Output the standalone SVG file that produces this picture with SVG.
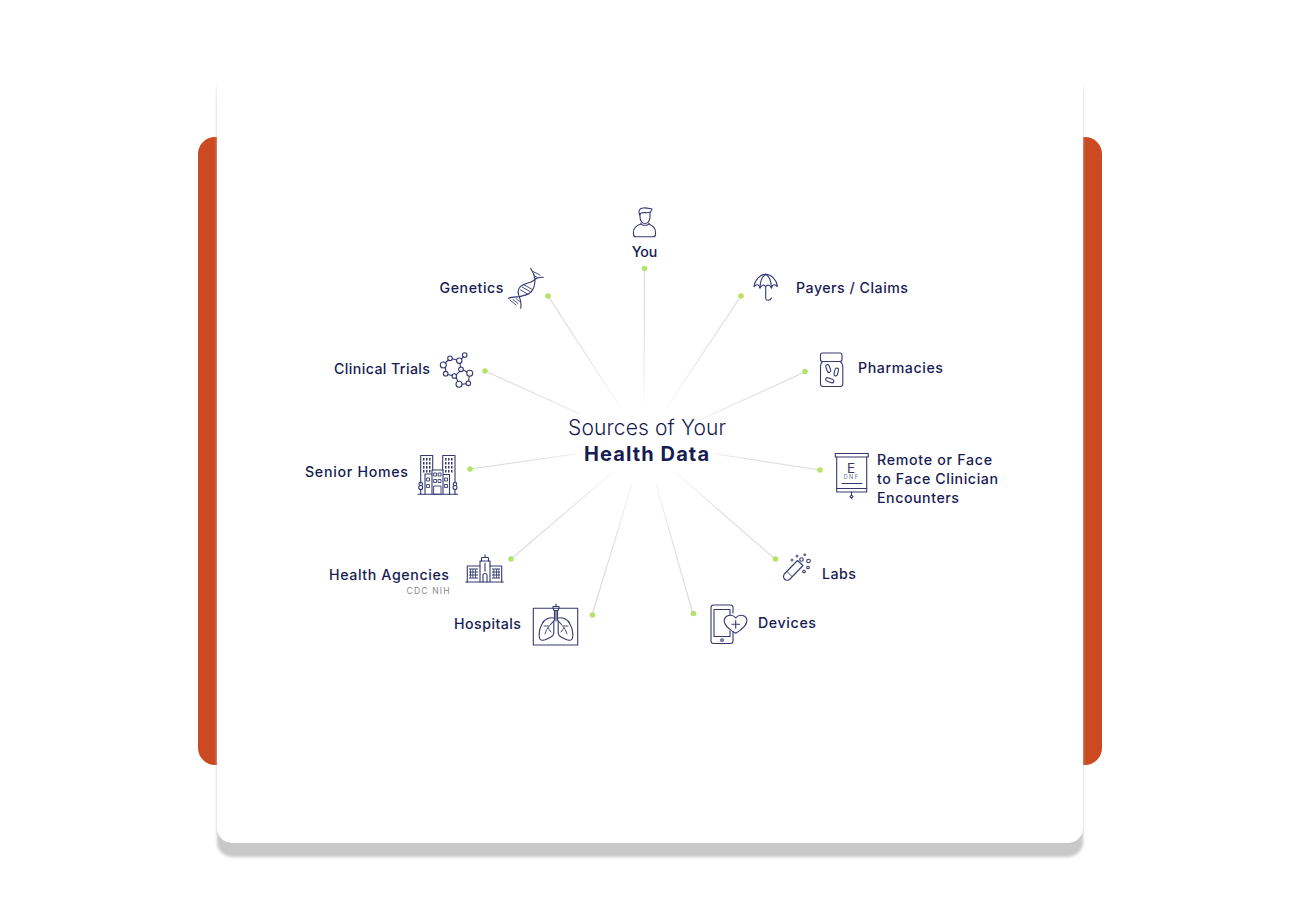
<svg xmlns="http://www.w3.org/2000/svg" width="1300" height="900" viewBox="0 0 1300 900">
<style>
.lab{font-family:"Inter","Liberation Sans",sans-serif;font-weight:500;font-size:14.2px;fill:#171c52}
.ic{fill:none;stroke:#343a70;stroke-width:1.1;stroke-linecap:round;stroke-linejoin:round}
.thin{stroke-width:.9}
.win{fill:#343a70;stroke:none}
.dot{fill:#b5e36a}
.ln{stroke:url(#fade);stroke-width:1.2;fill:none}
</style>
<defs>
<radialGradient id="fade" gradientUnits="userSpaceOnUse" cx="644" cy="440" r="230">
<stop offset="0.1" stop-color="#dcdcdc" stop-opacity="0"/>
<stop offset="0.45" stop-color="#dcdcdc" stop-opacity="0.8"/>
<stop offset="0.7" stop-color="#dcdcdc"/>
</radialGradient>
<filter id="soft" x="-5%" y="-5%" width="110%" height="110%"><feGaussianBlur stdDeviation="1.6"/></filter>
<linearGradient id="cardTop" gradientUnits="userSpaceOnUse" x1="0" y1="68" x2="0" y2="100">
<stop offset="0" stop-color="#fff"/><stop offset="1" stop-color="#fff" stop-opacity="0"/>
</linearGradient>
</defs>

<rect width="1300" height="900" fill="#fff"/>
<g id="backdrop">
<rect x="198" y="137" width="904" height="628" rx="17" fill="#cc4a21"/>
<rect x="217" y="75" width="866" height="782" rx="15" fill="#c8c8c8" filter="url(#soft)"/>
<rect x="217" y="60" width="866" height="783" rx="15" fill="#fff"/>
<rect x="205" y="60" width="890" height="40" fill="url(#cardTop)"/>
</g>

<g id="connectors">
<path class="ln" d="M644.500 268L644 405"/>
<path class="ln" d="M548 296L622 410"/>
<path class="ln" d="M485 371L580 414"/>
<path class="ln" d="M470 469L575 454"/>
<path class="ln" d="M511 559L613 472"/>
<path class="ln" d="M592 615L632 484"/>
<path class="ln" d="M693 614L656 484"/>
<path class="ln" d="M775 559L675 472"/>
<path class="ln" d="M820 470L715 454"/>
<path class="ln" d="M805 372L695 422"/>
<path class="ln" d="M741 296L665 410"/>
<circle class="dot" cx="644.500" cy="268.500" r="2.800"/>
<circle class="dot" cx="548" cy="296" r="2.800"/>
<circle class="dot" cx="485" cy="371" r="2.800"/>
<circle class="dot" cx="470" cy="469" r="2.800"/>
<circle class="dot" cx="511" cy="559" r="2.800"/>
<circle class="dot" cx="592.500" cy="615" r="2.800"/>
<circle class="dot" cx="693.500" cy="613.500" r="2.800"/>
<circle class="dot" cx="775.500" cy="559" r="2.800"/>
<circle class="dot" cx="820" cy="470" r="2.800"/>
<circle class="dot" cx="805" cy="371.500" r="2.800"/>
<circle class="dot" cx="741" cy="296" r="2.800"/>
</g>

<g id="title" text-anchor="middle">
<text x="647" y="434.500" font-family="Inter,'Liberation Sans',sans-serif" font-weight="300" font-size="21px" fill="#171c52" textLength="158">Sources of Your</text>
<text x="646.500" y="461" font-family="Inter,'Liberation Sans',sans-serif" font-weight="700" font-size="20px" fill="#171c52" textLength="125">Health Data</text>
</g>

<g id="you">
<text class="lab" x="644.500" y="256.500" text-anchor="middle">You</text>
<g class="ic">
<path d="M640 213.500V217C640 221 642.500 223.500 645 223.500C647.500 223.500 650 221 650 217V212.500"/>
<path d="M639.500 215C638 211 639.500 208 643 208C646 207.500 649 208.500 652 209L650.500 212C648 213.500 644 212 641 213Z"/>
<path d="M641 223C640 226 649.500 226 649 223"/>
<path d="M641 224C636.500 225.500 633.500 228 633.500 232V234.500C633.500 236 634.500 236.800 636 236.800H653C654.500 236.800 655.500 236 655.500 234.500V232C655.500 228 652.500 225.500 649 224"/>
</g>
</g>

<g id="genetics">
<text class="lab" x="439.500" y="292.700" textLength="64">Genetics</text>
<g class="ic">
<path d="M530.700 268.300C533 272 534.500 276 535 279.300C532 283 524 283 520 287C517.500 290 518 294 519.300 296.700C520.500 300 521.500 304 520.700 308.300"/>
<path d="M543.300 277.300C540 277 537 278 535 279.300C535 284 534 289 531 292C527 296 522 295.500 519.300 296.700C515.500 297 511 297 508.300 298.300"/>
</g>
<g class="ic thin">
<path d="M533 271.500L540 275M534 275.500L537.500 277.500M522 287L530 291.500M520.500 290L527.500 294M523.500 284.500L531.500 289M510 300L516 305M513 299.500L518 303.500M516 298.500L519.500 301.500"/>
</g>
</g>

<g id="clinical-trials">
<text class="lab" x="334" y="373.700" textLength="96">Clinical Trials</text>
<g class="ic">
<path d="M445 363L448.500 360M452.300 358.800L456.700 360M461.600 359L463.300 356.800M460 363.500L460.500 367M445.300 367.700C445.700 369 445.800 370 445.800 371.400M448 374.500L452 375.500M456 374.800L459.800 371.300M463.300 370L467 372M456.300 377.500L457.800 381.500M462 384.300L466 383.700M469.200 376.300L468.700 381"/>
<circle cx="443.300" cy="365" r="3"/>
<circle cx="450" cy="358.300" r="2.300"/>
<circle cx="459.300" cy="360.700" r="2.700"/>
<circle cx="464.700" cy="355" r="2.300"/>
<circle cx="461" cy="369.300" r="2.300"/>
<circle cx="469.700" cy="373.300" r="3"/>
<circle cx="468.300" cy="383.300" r="2.300"/>
<circle cx="459" cy="384.300" r="3"/>
<circle cx="454.300" cy="376" r="2.300"/>
<circle cx="445.700" cy="373.700" r="2.300"/>
</g>
</g>

<g id="senior-homes">
<text class="lab" x="305" y="476.700" textLength="103">Senior Homes</text>
<g class="ic">
<path d="M418 494.300H457.700"/>
<path d="M420.700 483V455.500H432.700V470M442.700 470V455.500H455V483"/>
<path d="M425 494.300V474H432V470H443V494.300M432 474V494.300M443 474.500H449.500V494.300"/>
<circle cx="420.700" cy="484" r="1.800"/>
<circle cx="420.700" cy="487.500" r="2"/>
<circle cx="455" cy="484" r="1.800"/>
<circle cx="455" cy="487.500" r="2"/>
<path d="M420.700 489.500V494.300M455 489.500V494.300"/>
</g>
<path class="win" d="M423 458h1.500v2.500h-1.500zM426 458h1.500v2.500h-1.500zM429 458h1.500v2.500h-1.500zM423 462h1.500v2.500h-1.500zM426 462h1.500v2.500h-1.500zM429 462h1.500v2.500h-1.500zM423 466h1.500v2.500h-1.500zM426 466h1.500v2.500h-1.500zM429 466h1.500v2.500h-1.500zM423 470h1.500v2.500h-1.500zM426 470h1.500v2.500h-1.500zM429 470h1.500v2.500h-1.500zM445 458h1.500v2.500h-1.500zM448 458h1.500v2.500h-1.500zM451 458h1.500v2.500h-1.500zM445 462h1.500v2.500h-1.500zM448 462h1.500v2.500h-1.500zM451 462h1.500v2.500h-1.500zM445 466h1.500v2.500h-1.500zM448 466h1.500v2.500h-1.500zM451 466h1.500v2.500h-1.500zM445 470h1.500v2.500h-1.500zM448 470h1.500v2.500h-1.500zM451 470h1.500v2.500h-1.500z"/>
<g class="ic thin"><path d="M434 473h2.500v3h-2.500zM438.500 473h2.500v3h-2.500zM434 479.500h2.500v3h-2.500zM438.500 479.500h2.500v3h-2.500zM427 478h2.500v3h-2.500zM427 484.500h2.500v3h-2.500zM445 478h2.500v3h-2.500zM445 484.500h2.500v3h-2.500zM434 486h7v8.300h-7z"/></g>
</g>

<g id="health-agencies">
<text class="lab" x="329" y="579.500" textLength="120">Health Agencies</text>
<text x="449.500" y="593.500" text-anchor="end" font-family="Inter,'Liberation Sans',sans-serif" font-size="8.500px" fill="#8a8a8a" textLength="43">CDC  NIH</text>
<g class="ic">
<path d="M465.700 582H503.300"/>
<path d="M467.300 582V566H480M490 566H501.700V582"/>
<path d="M480 582V561H490V582"/>
<path d="M481.500 561V558C481.500 557 488.500 557 488.500 558V561M485 557V554.800"/>
<path d="M483 575V582M487 575V582M483 575C483 573 487 573 487 575"/>
<path d="M485 563V571"/>
</g>
<path class="win" d="M469 568.500h9v1h-9zM469 571.500h9v1h-9zM469 574.500h9v1h-9zM469 577.500h9v1h-9zM492 568.500h8v1h-8zM492 571.500h8v1h-8zM492 574.500h8v1h-8zM492 577.500h8v1h-8zM470 568.500h.8v10h-.8zM472.500 568.500h.8v10h-.8zM475 568.500h.8v10h-.8zM493.500 568.500h.8v10h-.8zM496 568.500h.8v10h-.8zM498.500 568.500h.8v10h-.8z"/>
</g>

<g id="hospitals">
<text class="lab" x="454" y="628.500" textLength="67">Hospitals</text>
<g class="ic">
<rect x="533.300" y="608.300" width="44.400" height="36.700"/>
<path d="M553 608V606.500H559V608L558 610.500H554ZM556 606.500V604"/>
<path d="M556 611V621M554.500 611V620L551 624M557.500 611V620L561 624"/>
<path d="M553.500 618C550 617 544 619 542 624C539.500 629 538.600 634 539.500 638C540 640.500 543 640.800 546 639.500L551 637C553 636 553.800 634.500 553.800 632V621"/>
<path d="M558.500 618C562 617 568 619 570 624C572.500 629 573.400 634 572.500 638C572 640.500 569 640.800 566 639.500L561 637C559 636 558.200 634.500 558.200 632V621"/>
</g>
<g class="ic thin"><path d="M551 624L547 629M548.500 626L544 626M548 628L551 632M546.500 630L545 634M561 624L565 629M563.500 626L568 626M564 628L561 632M565.500 630L567 634"/></g>
</g>

<g id="devices">
<text class="lab" x="758" y="627.700" textLength="58">Devices</text>
<g class="ic">
<path d="M733 613V607.500C733 606 732 605 730.500 605H713.500C712 605 711 606 711 607.500V641C711 642.500 712 643.500 713.500 643.500H730.500C732 643.500 733 642.500 733 641V632"/>
<path d="M730 615V609.500H714V636.500H730V631"/>
<circle cx="722" cy="640" r="1.300"/>
<path d="M735.700 633.300C729 629.500 724 625.500 724.200 620.500C724.500 615.500 731.500 613 735.700 617.800C740 613 746.800 615.500 746.900 620.500C747 625.500 742 629.500 735.700 633.300Z"/>
<path d="M735.700 620.500V628M732 624.300H739.500"/>
</g>
</g>

<g id="labs">
<text class="lab" x="822" y="578.700" textLength="34">Labs</text>
<g class="ic">
<path d="M797.500 560.500L803 565.500L790 579C788.500 580.500 786 580.500 784.500 579C783 577.500 783.300 575 784.800 573.500Z"/>
<path d="M787 571.500L792 576.500" class="thin"/>
<circle cx="801.500" cy="559.500" r="1.800"/>
<circle cx="808.500" cy="561" r="1.800"/>
<circle cx="804" cy="571.500" r="1.300"/>
<circle cx="808" cy="567.500" r="1.300"/>
</g>
<circle cx="792" cy="560" r="1.500" fill="#6b6f96"/>
<circle cx="797" cy="556" r="1.500" fill="#6b6f96"/>
<circle cx="804.800" cy="554.800" r="1.500" fill="#6b6f96"/>
</g>

<g id="remote">
<text class="lab" x="877" y="464.500" textLength="115">Remote or Face</text>
<text class="lab" x="877" y="483.500" textLength="121">to Face Clinician</text>
<text class="lab" x="877" y="502.500" textLength="82">Encounters</text>
<g class="ic">
<rect x="835.300" y="453.500" width="33" height="3.500"/>
<path d="M836.700 457V492H866.700V457"/>
<path d="M836.700 488.500H866.700M842 483.500H862M851.500 492V495"/>
<path d="M851.500 495L853 496.700L851.500 498.300L850 496.700Z"/>
</g>
<text x="851" y="472.500" text-anchor="middle" font-family="Inter,'Liberation Sans',sans-serif" font-size="13.500px" fill="#343a70">E</text>
<text x="851.500" y="479" text-anchor="middle" font-family="Inter,'Liberation Sans',sans-serif" font-size="5.500px" letter-spacing="1.400" fill="#6b6f96">DNF</text>
</g>

<g id="pharmacies">
<text class="lab" x="858" y="372.700" textLength="85">Pharmacies</text>
<g class="ic">
<rect x="820.500" y="353" width="21.500" height="8.500" rx="2"/>
<path d="M822.500 361.500C821 363 820.500 364 820.500 366V384C820.500 385.500 821.500 386.500 823 386.500H840C841.500 386.500 842.800 385.500 842.800 384V366C842.800 364 842 363 840.500 361.500"/>
<rect x="826.500" y="364.500" width="3.500" height="8" rx="1.750" transform="rotate(-20 828.250 368.500)"/>
<rect x="834.500" y="368" width="3.500" height="8" rx="1.750" transform="rotate(15 836.250 372)"/>
<rect x="825.500" y="378.500" width="8.500" height="3.500" rx="1.750" transform="rotate(20 829.750 380.250)"/>
</g>
</g>

<g id="payers">
<text class="lab" x="796" y="292.700" textLength="112">Payers / Claims</text>
<g class="ic">
<path d="M754 286.500C755 279.500 760 274.500 765.700 274.200C771.500 274.500 776.500 279.500 777.500 286.500C775 284 772.500 284 771.500 288C770 285 767.500 284 765.700 286.500C764 284 761.500 285 760 288C759 284 756.500 284 754 286.500Z"/>
<path d="M765.700 274.200C762 276.500 760.200 282 760 288M765.700 274.200C769.500 276.500 771.300 282 771.500 288M765.700 286.500V298.500C766 301 770 301 771.500 298"/>
</g>
</g>
</svg>
